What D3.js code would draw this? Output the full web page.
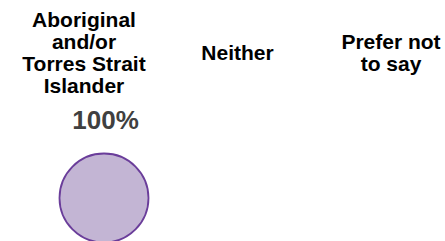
<!DOCTYPE html>
<html>
<head>
<meta charset="utf-8">
<script src="https://cdn.jsdelivr.net/npm/d3@7"></script>
<style>
  html, body { margin: 0; padding: 0; background: #fff; }
  svg { display: block; font-family: "Liberation Sans", Arial, sans-serif; }
</style>
</head>
<body>
<svg width="445" height="241"></svg>
<script>
const CATEGORIES = ["Aboriginal and/or Torres Strait Islander", "Neither", "Prefer not to say"];
const HEADER_LINES = [
    ["Aboriginal", "and/or", "Torres Strait", "Islander"],
    ["Neither"],
    ["Prefer not", "to say"],
];
const SHARES = [1.0, 0, 0];

const data = CATEGORIES.map((cat, i) => ({ cat: cat, lines: HEADER_LINES[i], share: SHARES[i] }));

const xScale = d3.scalePoint()
    .domain(CATEGORIES)
    .range([84, 391]);

const rScale = d3.scaleSqrt()
    .domain([0, 1])
    .range([0, 44.5]);

const svg = d3.select('svg');

// header labels, vertically centred on one line
const fontSize = 21;
const lineH = 21.7;
const midY = 52.5;

const headers = svg.selectAll('.header')
    .data(data)
    .enter()
    .append('text')
    .classed('header', true)
    .attr('text-anchor', 'middle')
    .attr('font-size', fontSize)
    .attr('font-weight', 'bold')
    .attr('fill', '#000');

headers.selectAll('tspan')
    .data(d => d.lines.map((l, i) => ({ text: l, i: i, n: d.lines.length, x: xScale(d.cat) })))
    .enter()
    .append('tspan')
    .attr('x', d => d.x)
    .attr('y', d => midY - (d.n - 1) * lineH / 2 + d.i * lineH + fontSize * 0.716 / 2)
    .text(d => d.text);

// circles only where share > 0
const shown = data.filter(d => d.share > 0);
const circleOffset = 20;

svg.selectAll('.bubble')
    .data(shown)
    .enter()
    .append('circle')
    .classed('bubble', true)
    .attr('cx', d => xScale(d.cat) + circleOffset)
    .attr('cy', 198)
    .attr('r', d => rScale(d.share))
    .attr('fill', '#c3b5d4')
    .attr('stroke', '#6a3d9a')
    .attr('stroke-width', 1.8);

svg.selectAll('.value')
    .data(shown)
    .enter()
    .append('text')
    .classed('value', true)
    .attr('x', d => xScale(d.cat) + circleOffset + 1.5)
    .attr('y', 129.3)
    .attr('text-anchor', 'middle')
    .attr('font-size', 26)
    .attr('font-weight', 'bold')
    .attr('fill', '#404040')
    .text(d => d3.format('.0%')(d.share));
</script>
</body>
</html>
